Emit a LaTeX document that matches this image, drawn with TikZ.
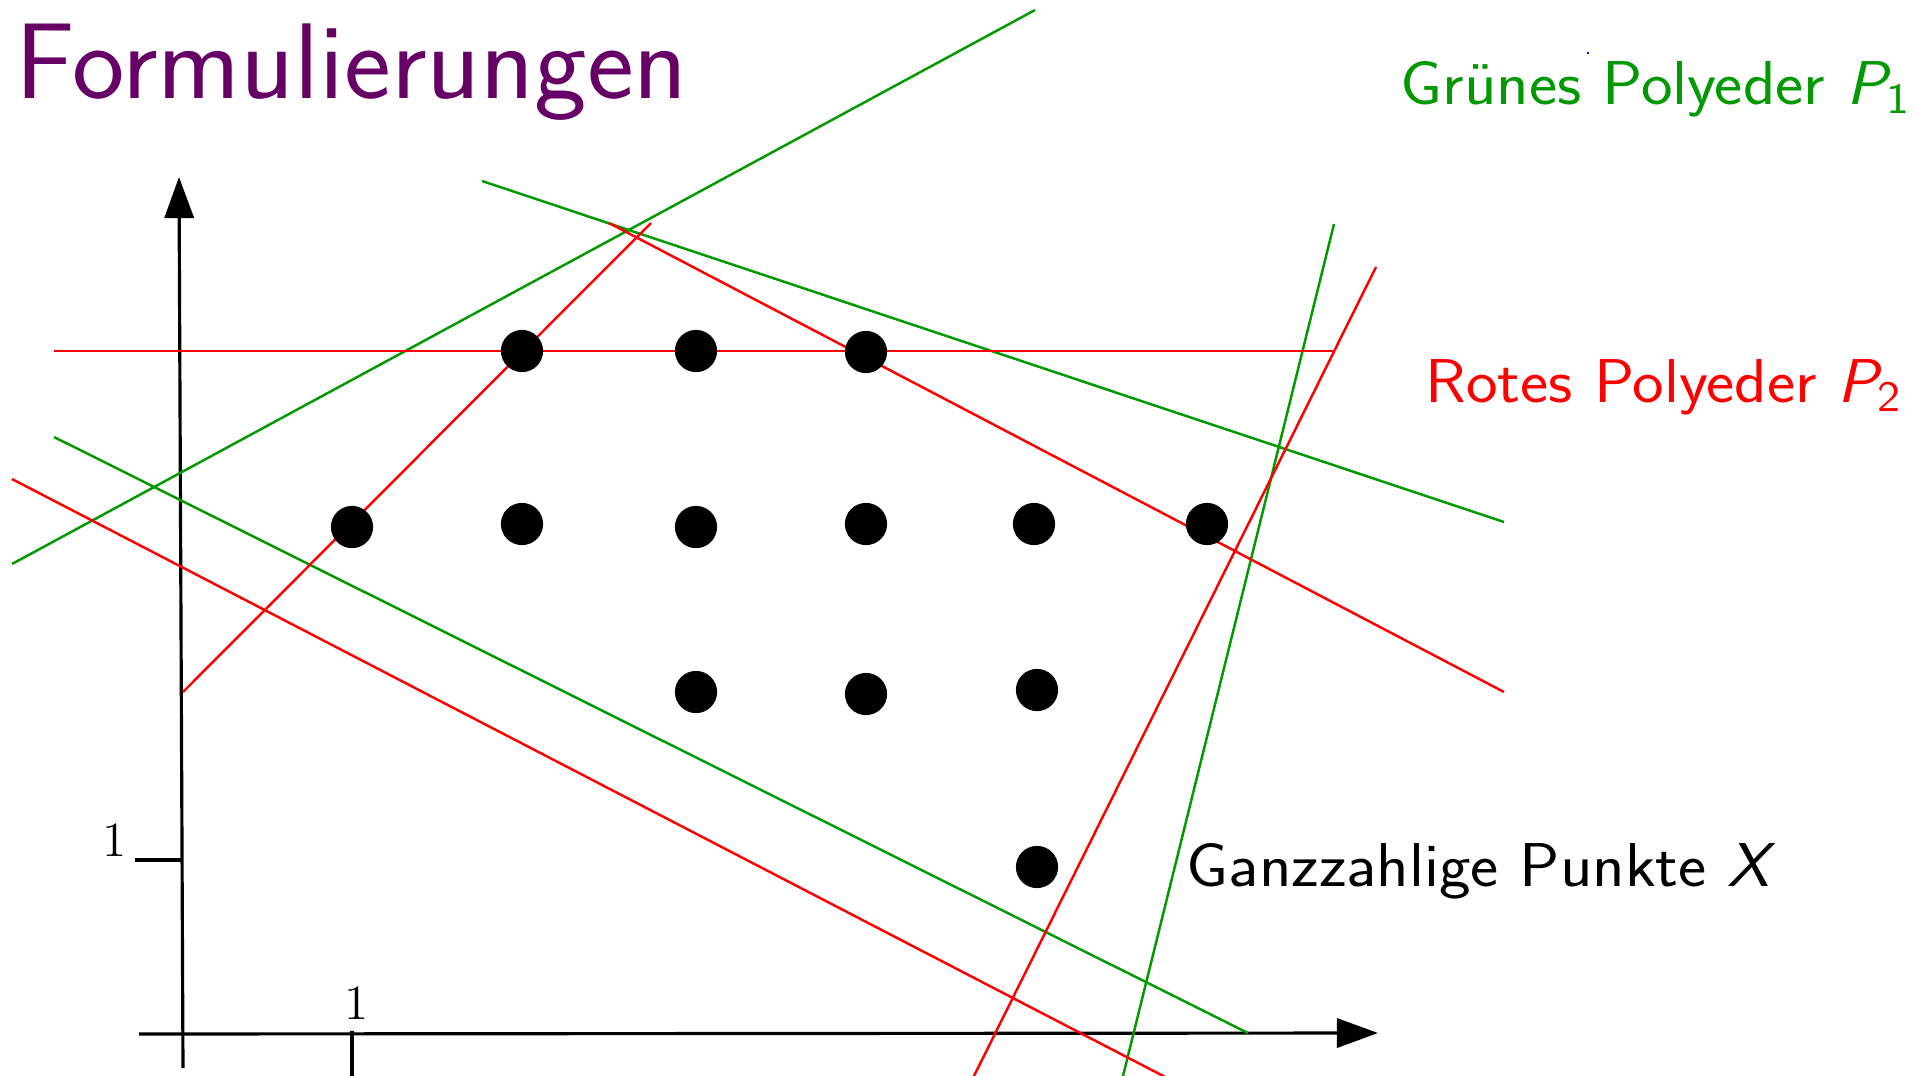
\documentclass[tikz,border=0pt]{standalone}
\usepackage{fontspec}
\usepackage{graphicx}
\usetikzlibrary{arrows.meta}
\definecolor{pgreen}{RGB}{0,153,0}
\definecolor{pred}{RGB}{255,0,0}
\definecolor{ptitle}{RGB}{102,0,102}
\definecolor{pblue}{RGB}{0,0,230}
\begin{document}
\begin{tikzpicture}[x=0.01cm,y=-0.01cm,
  axis/.style={line width=0.9pt, black},
  axarrow/.style={axis, -{Triangle[length=11.7pt,width=8.3pt]}},
  gline/.style={pgreen, line width=0.7pt},
  rline/.style={pred, line width=0.7pt},
  pt/.style={circle, fill=black, inner sep=0pt, minimum size=12pt},
  lbl/.style={anchor=base west, inner sep=0pt, font=\sffamily\fontsize{17.6}{20}\selectfont},
  ticklbl/.style={inner sep=0pt, font=\fontsize{14}{16}\selectfont},
]
\useasboundingbox (0,0) rectangle (1917,1075);

% title
\node[anchor=base west, inner sep=0pt, text=ptitle, font=\sffamily\fontsize{30.6}{36}\selectfont] (title) at (15,98) {\scalebox{1.036}[1]{Formulierungen}};

% axes
\coordinate (xs) at (139,1034);
\coordinate (xe) at (1378,1033);
\coordinate (ys) at (183,1068);
\coordinate (ye) at (179,177);
\draw[axarrow] (xs) -- (xe);
\draw[axarrow] (ys) -- (ye);
\coordinate (xt1) at (352,1031);
\coordinate (xt2) at (352,1080);
\coordinate (yt1) at (135,860);
\coordinate (yt2) at (183,860);
\draw[axis] (xt1) -- (xt2);
\draw[axis] (yt1) -- (yt2);
\node[ticklbl] (xl) at (357,1003) {1};
\node[ticklbl] (yl) at (115,840) {1};

% green polyhedron
\draw[gline] (12,564) -- (1035,10);
\draw[gline] (482,181) -- (1504,522);
\draw[gline] (54,437) -- (1248,1033);
\draw[gline] (1122,1080) -- (1334,224);

% red polyhedron
\draw[rline] (183,692) -- (651,223);
\draw[rline] (54,351) -- (1333,351);
\draw[rline] (609,223) -- (1504,692);
\draw[rline] (12,479) -- (1171,1080);
\draw[rline] (972,1080) -- (1376,267);

% integer points
\node[pt] (p1) at (522,351) {};
\node[pt] (p2) at (696,351) {};
\node[pt] (p3) at (866,352) {};
\node[pt] (p4) at (352,527) {};
\node[pt] (p5) at (522,524) {};
\node[pt] (p6) at (696,527) {};
\node[pt] (p7) at (866,524) {};
\node[pt] (p8) at (1034,524) {};
\node[pt] (p9) at (1207,524) {};
\node[pt] (p10) at (696,692) {};
\node[pt] (p11) at (866,694) {};
\node[pt] (p12) at (1037,690) {};
\node[pt] (p13) at (1037,867) {};

% labels
\node[lbl, text=pgreen] (lg) at (1400,104) {\scalebox{1.085}[1]{Grünes Polyeder {\slshape P}$_{\mathsf{1}}$}};
\node[lbl, text=pred] (lr) at (1425,402) {\scalebox{1.085}[1]{Rotes Polyeder {\slshape P}$_{\mathsf{2}}$}};
\node[lbl, text=black] (lx) at (1186,886) {\scalebox{1.085}[1]{Ganzzahlige Punkte {\slshape X}}};

% stray blue dot
\fill[pblue] (1588,53) circle (1.3);
\end{tikzpicture}
\end{document}
